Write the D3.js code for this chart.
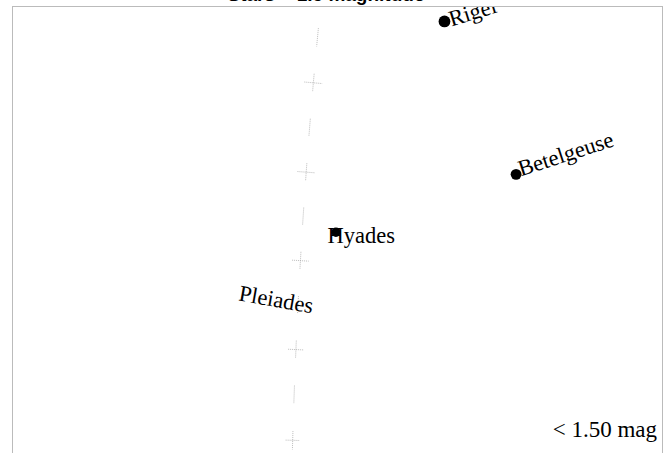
<!DOCTYPE html>
<html>
<head>
<meta charset="utf-8">
<script src="https://cdn.jsdelivr.net/npm/d3@7"></script>
<style>
  body { margin: 0; background: #fff; }
  svg { display: block; }
</style>
</head>
<body>
<div class="chart"></div>
<script>
// bright stars (RA in degrees, Dec in degrees, visual magnitude)
var starNames = ["Rigel", "Betelgeuse", "Aldebaran", "Capella", "Sirius", "Procyon"];
var starRA    = [78.63, 88.79, 68.98, 79.17, 101.29, 114.83];
var starDec   = [-8.20, 7.41, 16.51, 46.00, -16.72, 5.22];
var starMag   = [0.13, 0.42, 0.86, 0.08, -1.46, 0.34];
var starLabel = ["Rigel", "Betelgeuse", "", "Capella", "Sirius", "Procyon"];

// star clusters, labelled only
var clusterNames = ["Hyades", "Pleiades"];
var clusterRA    = [66.75, 56.75];
var clusterDec   = [15.87, 24.12];

// graticule pieces
var meridianRA = 65;
var parallelDecs = [-10, 0, 10, 20, 30, 40];
var dashDecs = [-5, 5, 15, 25, 35, 45];

var magLimit = 1.5;
var titleText = "Stars < 1.5 magnitude";

// label placement (style only)
var labelStyle = {
  "Rigel":      { dx: 7, dy: 5, angle: -17 },
  "Betelgeuse": { dx: 5, dy: 2, angle: -18 },
  "Capella":    { dx: 7, dy: 5, angle: 0 },
  "Sirius":     { dx: 7, dy: 5, angle: 0 },
  "Procyon":    { dx: 7, dy: 5, angle: 0 },
  "Hyades":     { dx: 10, dy: 18, angle: 0 },
  "Pleiades":   { dx: 7, dy: 5, angle: 10 }
};

var svgWidth = 670;
var svgHeight = 453;

var frame = { left: 12.5, top: 6.5, width: 650, height: 470 };

var svg = d3.select(".chart")
  .append("svg")
  .attr("width", svgWidth)
  .attr("height", svgHeight);

// clip everything to the frame
svg.append("defs")
  .append("clipPath")
  .attr("id", "frameClip")
  .append("rect")
  .attr("x", frame.left)
  .attr("y", frame.top)
  .attr("width", frame.width)
  .attr("height", frame.height);

// sky projection: RA grows to the right, Dec grows downward
var projection = d3.geoStereographic()
  .rotate([-75, -17])
  .reflectY(true)
  .angle(-6.5)
  .scale(1008)
  .translate([386, 241.5]);

var path = d3.geoPath(projection);

var chartGroup = svg.append("g")
  .attr("clip-path", "url(#frameClip)");

// graticule: meridian dashes and small crosses
var gratLines = [];
dashDecs.forEach(function(d) {
  gratLines.push([[meridianRA, d - 1], [meridianRA, d + 1]]);
});
parallelDecs.forEach(function(d) {
  gratLines.push([[meridianRA, d - 1], [meridianRA, d + 1]]);
  gratLines.push([[meridianRA - 1, d], [meridianRA + 1, d]]);
});

chartGroup.selectAll(".grat")
  .data(gratLines)
  .enter()
  .append("path")
  .attr("class", "grat")
  .attr("d", function(d) { return path({ type: "LineString", coordinates: d }); })
  .attr("fill", "none")
  .attr("stroke", "#aaa")
  .attr("stroke-width", 0.8)
  .attr("stroke-dasharray", "1,1");

var stars = starNames.map(function(n, i) {
  return { name: n, ra: starRA[i], dec: starDec[i], mag: starMag[i], label: starLabel[i] };
}).filter(function(d) { return d.mag < magLimit; });

var clusters = clusterNames.map(function(n, i) {
  return { name: n, ra: clusterRA[i], dec: clusterDec[i], label: n };
});

var rScale = d3.scaleLinear()
  .domain([0, 1.5])
  .range([6.1, 3.7])
  .clamp(true);

function labelTransform(d) {
  var p = projection([d.ra, d.dec]);
  var s = labelStyle[d.label];
  return "translate(" + (p[0] + s.dx) + "," + (p[1] + s.dy) + ") rotate(" + s.angle + ")";
}

// labels
chartGroup.selectAll(".label")
  .data(clusters.concat(stars.filter(function(d) { return d.label; })))
  .enter()
  .append("text")
  .attr("class", "label")
  .attr("transform", labelTransform)
  .style("font-family", "'Liberation Serif', 'Times New Roman', serif")
  .style("font-size", "22.5px")
  .style("fill", "#000")
  .text(function(d) { return d.label; });

// star dots
chartGroup.selectAll(".star")
  .data(stars)
  .enter()
  .append("circle")
  .attr("class", "star")
  .attr("cx", function(d) { return projection([d.ra, d.dec])[0]; })
  .attr("cy", function(d) { return projection([d.ra, d.dec])[1]; })
  .attr("r", function(d) { return rScale(d.mag); })
  .attr("fill", "#000");

// magnitude note
svg.append("text")
  .attr("x", 657)
  .attr("y", 437)
  .attr("text-anchor", "end")
  .style("font-family", "'Liberation Serif', 'Times New Roman', serif")
  .style("font-size", "23px")
  .text("< " + magLimit.toFixed(2) + " mag");

// frame
svg.append("rect")
  .attr("x", frame.left)
  .attr("y", frame.top)
  .attr("width", frame.width)
  .attr("height", frame.height)
  .attr("fill", "none")
  .attr("stroke", "#bbb")
  .attr("stroke-width", 1);

// title sits above the frame, mostly off the page
svg.append("text")
  .attr("x", 326)
  .attr("y", 1)
  .attr("text-anchor", "middle")
  .style("font-family", "'Liberation Sans', Arial, sans-serif")
  .style("font-weight", "bold")
  .style("font-size", "19px")
  .text(titleText);
</script>
</body>
</html>
